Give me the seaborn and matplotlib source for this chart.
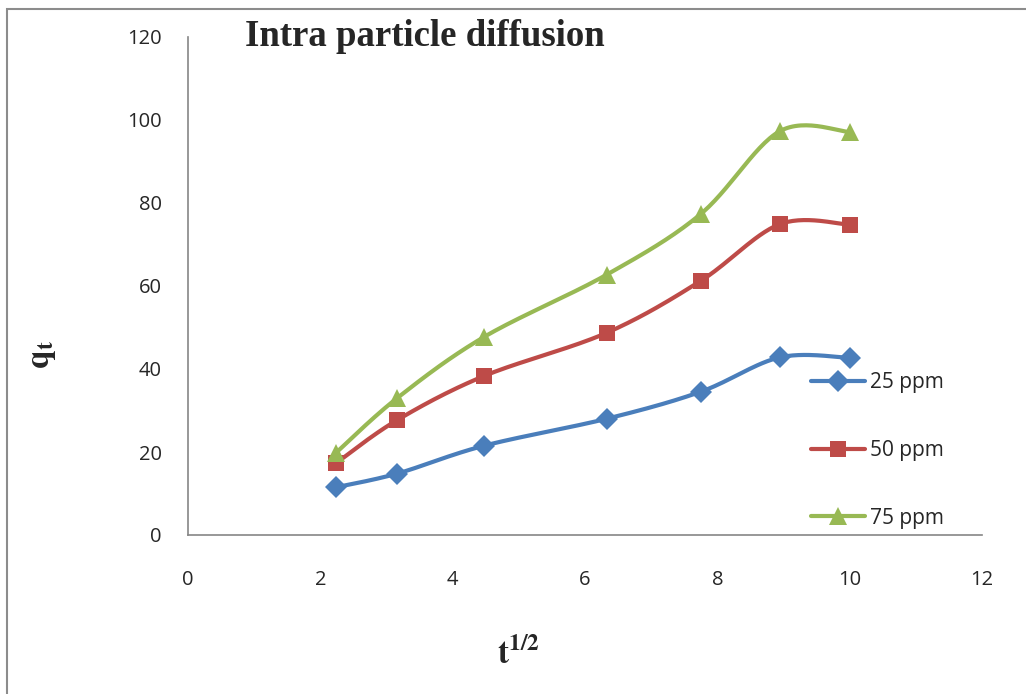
import numpy as np
import pandas as pd
import matplotlib
matplotlib.use("Agg")
import matplotlib.pyplot as plt
import seaborn as sns
from matplotlib.patches import Rectangle

# values
t_half = [2.236, 3.162, 4.472, 6.325, 7.746, 8.944, 10.0]
q_25 = [11.5, 14.8, 21.5, 28.0, 34.5, 42.8, 42.7]
q_50 = [17.3, 27.7, 38.3, 48.7, 61.2, 74.9, 74.8]
q_75 = [19.8, 33.0, 47.7, 62.7, 77.3, 97.3, 97.1]

series = {"25 ppm": q_25, "50 ppm": q_50, "75 ppm": q_75}
colors = {"25 ppm": "#4A7EBB", "50 ppm": "#BE4B48", "75 ppm": "#98B954"}
markers = {"25 ppm": "D", "50 ppm": "s", "75 ppm": "^"}
msizes = {"25 ppm": 11, "50 ppm": 12, "75 ppm": 13}


def smooth_path(x, y, steps=30):
    """Excel-like smoothed line: cubic Bezier segments through the points."""
    p = np.column_stack([x, y]).astype(float)
    p_ext = np.vstack([p[0], p, p[-1]])
    out = [p[0]]
    s = np.linspace(0, 1, steps + 1)[1:, None]
    for i in range(len(p) - 1):
        p0, p1 = p_ext[i + 1], p_ext[i + 2]
        c1 = p0 + (p_ext[i + 2] - p_ext[i]) / 6
        c2 = p1 - (p_ext[i + 3] - p_ext[i + 1]) / 6
        seg = ((1 - s) ** 3) * p0 + 3 * ((1 - s) ** 2) * s * c1 + 3 * (1 - s) * s ** 2 * c2 + s ** 3 * p1
        out.extend(seg)
    out = np.array(out)
    idx = [i * steps for i in range(len(p))]
    return out[:, 0], out[:, 1], idx


sns.set_style("white")
plt.rcParams["font.family"] = ["Open Sans", "DejaVu Sans"]

fig = plt.figure(figsize=(10.26, 6.94), dpi=100)
ax = fig.add_axes([188 / 1026, 1 - 535 / 694, (982 - 188) / 1026, (535 - 37) / 694])

for name, vals in series.items():
    xs, ys, idx = smooth_path(t_half, vals)
    df = pd.DataFrame({"x": xs, "y": ys})
    sns.lineplot(data=df, x="x", y="y", ax=ax, sort=False, estimator=None,
                 color=colors[name], linewidth=3, marker=markers[name],
                 markersize=msizes[name], markevery=idx, markeredgewidth=0,
                 label=name)

ax.set_xlim(0, 12)
ax.set_ylim(0, 120)
ax.set_xticks(range(0, 13, 2))
ax.set_yticks(range(0, 121, 20))
ax.tick_params(axis="both", length=0, labelsize=14.5)
ax.tick_params(axis="x", pad=25)
ax.tick_params(axis="y", pad=19)
ax.set_xlabel("")
ax.set_ylabel("")
for side in ["top", "right"]:
    ax.spines[side].set_visible(False)
for side in ["left", "bottom"]:
    ax.spines[side].set_color("#868686")
    ax.spines[side].set_linewidth(1.2)

leg = ax.legend(loc="upper left", bbox_to_anchor=(811 / 1026, 1 - 372 / 694),
                bbox_transform=fig.transFigure, frameon=False, fontsize=15,
                handlelength=2.6, handletextpad=0.25, labelspacing=2.25,
                borderpad=0, borderaxespad=0)

fig.text(245 / 1026, 1 - 37 / 694, "Intra particle diffusion", family="Liberation Serif",
         fontweight="bold", fontsize=26.5, va="center", ha="left")
fig.text(518 / 1026, 1 - 655 / 694, r"$\mathbf{t^{1/2}}$", fontsize=24,
         ha="center", va="center", math_fontfamily="stix")
fig.text(42 / 1026, 1 - 355 / 694, r"$\mathbf{q_t}$", fontsize=24, rotation=90,
         ha="center", va="center", math_fontfamily="stix")

fig.patches.append(Rectangle((7 / 1026, -0.05), 1.1, 1 - 9 / 694 + 0.05,
                             transform=fig.transFigure, fill=False,
                             edgecolor="#8c8c8c", linewidth=1.5))

fig.savefig("out.png", dpi=100)
